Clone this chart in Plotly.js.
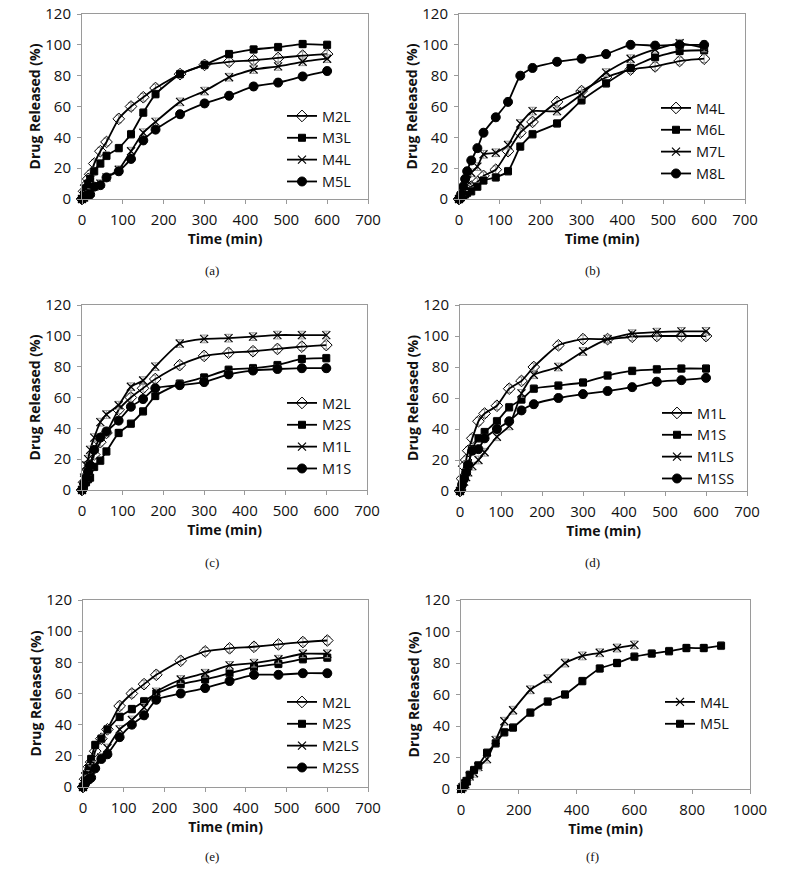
<!DOCTYPE html>
<html><head><meta charset="utf-8">
<script src="https://cdn.plot.ly/plotly-3.0.1.min.js"></script>
<style>html,body{margin:0;padding:0;background:#fff;}#chart{width:800px;height:876px;}</style>
</head><body><div id="chart"></div>
<script>
// Time points (min)
const time = [0,5,10,15,20,30,45,60,90,120,150,180,240,300,360,420,480,540,600];
const timeLong = [0,5,10,15,20,30,45,60,90,120,150,180,240,300,360,420,480,540,600,660,720,780,840,900];

// Panel (a)
const a_M2L = [0,5,9,13,16,23,31,37,52,60,66,72,81,87,89,90,91.5,93,94];
const a_M3L = [0,3,7,10,13,18,23,28,33,42,56,68,81,87,94,97,98.5,100.5,100];
const a_M4L = [0,1,2,3,4,8,10,14,19,31,43,50,63,70,79,84,86,89,91];
const a_M5L = [0,1,2,3,3,8,9,14,18,26,38,45,55,62,67,73,75.5,79.5,83];
// Panel (b)
const b_M4L = [0,1,2,4,6,8,11,15,19,31,43,50,63,70,79,84,86,89.5,91];
const b_M6L = [0,1,2,3,4,5,8,12,14,18,34,42,49,64,75,85,92,96,96.5];
const b_M7L = [0,2,5,8,12,17,21,29,30,35,49,57,57,68,82,91,97,101,98];
const b_M8L = [0,3,8,13,18,25,33,43,53,63,80,85,89,91,94,100,99.5,100,100];
// Panel (c)
const c_M2L = [0,5,9,13,16,23,31,37,52,60,66,72,81,87,89,90,91.5,93,94];
const c_M2S = [0,3,5,7,8,15,19,25,37,43,51,61,69,73,78,79,81,85,85.5];
const c_M1L = [0,8,16,20,26,34,44,49,55,67,71,80,95,98,98.5,99.5,100.5,100.5,100.5];
const c_M1S = [0,4,8,12,16,26,34,38,45,54,59,66,68,70,75,77.5,78.5,79,79];
// Panel (d)
const d_M1L = [0,8,16,20,26,34,45,50,55,66,71,80,94,98,98,99.5,100,100,100];
const d_M1S = [0,4,8,12,16,27,34,38,45,54,59,66,68,70,74.5,77.5,78.5,79,79];
const d_M1LS = [0,3,6,9,12,16,20,25,35,42,63,75,80,90,98,101.5,102.5,103,103];
const d_M1SS = [0,4,8,12,17,26,27,34,40,45,52,56,60,62.5,64.5,67,70.5,71.5,73];
// Panel (e)
const e_M2L = [0,5,9,13,16,23,31,37,52,60,66,72,81,87,89,90,91.5,93,94];
const e_M2S = [0,4,8,12,18,27,31,37,45,50,55,60,66,69,73,77,79,82,83];
const e_M2LS = [0,2,5,8,11,14,19,25,37,43,51,61,69,73,78,79.5,82,85.5,85.5];
const e_M2SS = [0,2,4,5,6,12,18,21,32,40,46,56,60,63.5,68,72,72,73,73];
// Panel (f)
const f_M4L = [0,1,2,3,5,8,10,14,19,31,43,50,63,70,80,84.5,86.5,89.5,91.5];
const f_M5L = [0,1,2,4,5,9,12,15,23,29,36,39,48.5,55.5,60,68.5,76.5,80,84,86,87.5,89.5,89.5,91];

const xTicksA = [0,100,200,300,400,500,600,700];
const xTicksF = [0,200,400,600,800,1000];
const yTicks = [0,20,40,60,80,100,120];
const panelLabels = ['(a)','(b)','(c)','(d)','(e)','(f)'];

const SYM = {
  diamond: {symbol:'diamond-open', size:9, color:'#000', line:{color:'#000', width:1}},
  square: {symbol:'square', size:7, color:'#000', line:{color:'#000', width:1}},
  cross: {symbol:'x-thin-open', size:8, color:'#000', line:{color:'#000', width:1.2}},
  circle: {symbol:'circle', size:9, color:'#000', line:{color:'#000', width:1}}
};

const traces = [];
function add(panel, name, x, y, sym) {
  const s = panel === 1 ? '' : String(panel);
  traces.push({
    type:'scatter', mode:'lines+markers', name:name, x:x, y:y,
    xaxis:'x'+s, yaxis:'y'+s, legend: 'legend'+s,
    line:{color:'#000', width:1.8, shape:'spline', smoothing:0.5},
    marker: SYM[sym], cliponaxis:false,
    error_y:{type:'constant', value:2.5, color:'#999', thickness:1, width:3}
  });
}
add(1,'M2L',time,a_M2L,'diamond'); add(1,'M3L',time,a_M3L,'square'); add(1,'M4L',time,a_M4L,'cross'); add(1,'M5L',time,a_M5L,'circle');
add(2,'M4L',time,b_M4L,'diamond'); add(2,'M6L',time,b_M6L,'square'); add(2,'M7L',time,b_M7L,'cross'); add(2,'M8L',time,b_M8L,'circle');
add(3,'M2L',time,c_M2L,'diamond'); add(3,'M2S',time,c_M2S,'square'); add(3,'M1L',time,c_M1L,'cross'); add(3,'M1S',time,c_M1S,'circle');
add(4,'M1L',time,d_M1L,'diamond'); add(4,'M1S',time,d_M1S,'square'); add(4,'M1LS',time,d_M1LS,'cross'); add(4,'M1SS',time,d_M1SS,'circle');
add(5,'M2L',time,e_M2L,'diamond'); add(5,'M2S',time,e_M2S,'square'); add(5,'M2LS',time,e_M2LS,'cross'); add(5,'M2SS',time,e_M2SS,'circle');
add(6,'M4L',time,f_M4L,'cross'); add(6,'M5L',timeLong,f_M5L,'square');

const W = 800, H = 876;
// pixel boxes of plot areas: [x0,x1,y0(top),y1(bottom)]
const boxes = [
  [82,368,14,199],[459,745,14,199],
  [82,367,305,490],[460,747,305,491],
  [83,368,600,787],[461,750,600,789]
];
const legendPos = [[282,100],[656,92],[282,387],[657,397],[282,686],[660,686]];
const labelPos = [[212,270],[592,270],[212,562],[592,562],[212,856],[592,856]];

const font = {family:'"Open Sans", sans-serif', size:15, color:'#111'};
const layout = {
  width:W, height:H, margin:{l:0,r:0,t:0,b:0},
  paper_bgcolor:'#fff', plot_bgcolor:'#fff', font:font, showlegend:true,
  annotations:[]
};
boxes.forEach((b,i)=>{
  const s = i===0 ? '' : String(i+1);
  const isF = i===5;
  layout['xaxis'+s] = {
    domain:[b[0]/W, b[1]/W], anchor:'y'+s,
    range: isF ? [0,1000] : [0,700], tickvals: isF ? xTicksF : xTicksA,
    showgrid:false, zeroline:false, showline:true, linecolor:'#9a9a9a', linewidth:1, mirror:true,
    ticks:'outside', ticklen:4, tickcolor:'#9a9a9a', tickfont:{size:15}, ticklabelstandoff:3,
    title:{text:'<b>Time (min)</b>', font:{size:14}, standoff:2}
  };
  layout['yaxis'+s] = {
    domain:[1-b[3]/H, 1-b[2]/H], anchor:'x'+s,
    range:[0,120], tickvals:yTicks,
    showgrid:false, zeroline:false, showline:true, linecolor:'#9a9a9a', linewidth:1, mirror:true,
    ticks:'outside', ticklen:4, tickcolor:'#9a9a9a', tickfont:{size:15}, ticklabelstandoff:3,
    title:{text:'<b>Drug Released (%)</b>', font:{size:14}, standoff:1}
  };
  layout['legend'+s] = {
    x: legendPos[i][0]/W, y: 1-legendPos[i][1]/H, xanchor:'left', yanchor:'top',
    bgcolor:'rgba(0,0,0,0)', font:{size:14.5, color:'#111'}, itemwidth:30, tracegroupgap:0
  };
  layout.annotations.push({
    text:panelLabels[i], xref:'paper', yref:'paper', xanchor:'center', yanchor:'middle',
    x:labelPos[i][0]/W, y:1-labelPos[i][1]/H, showarrow:false,
    font:{family:'"Liberation Serif", "DejaVu Serif", serif', size:13, color:'#111'}
  });
});
Plotly.newPlot('chart', traces, layout, {displayModeBar:false, staticPlot:true});
</script></body></html>
